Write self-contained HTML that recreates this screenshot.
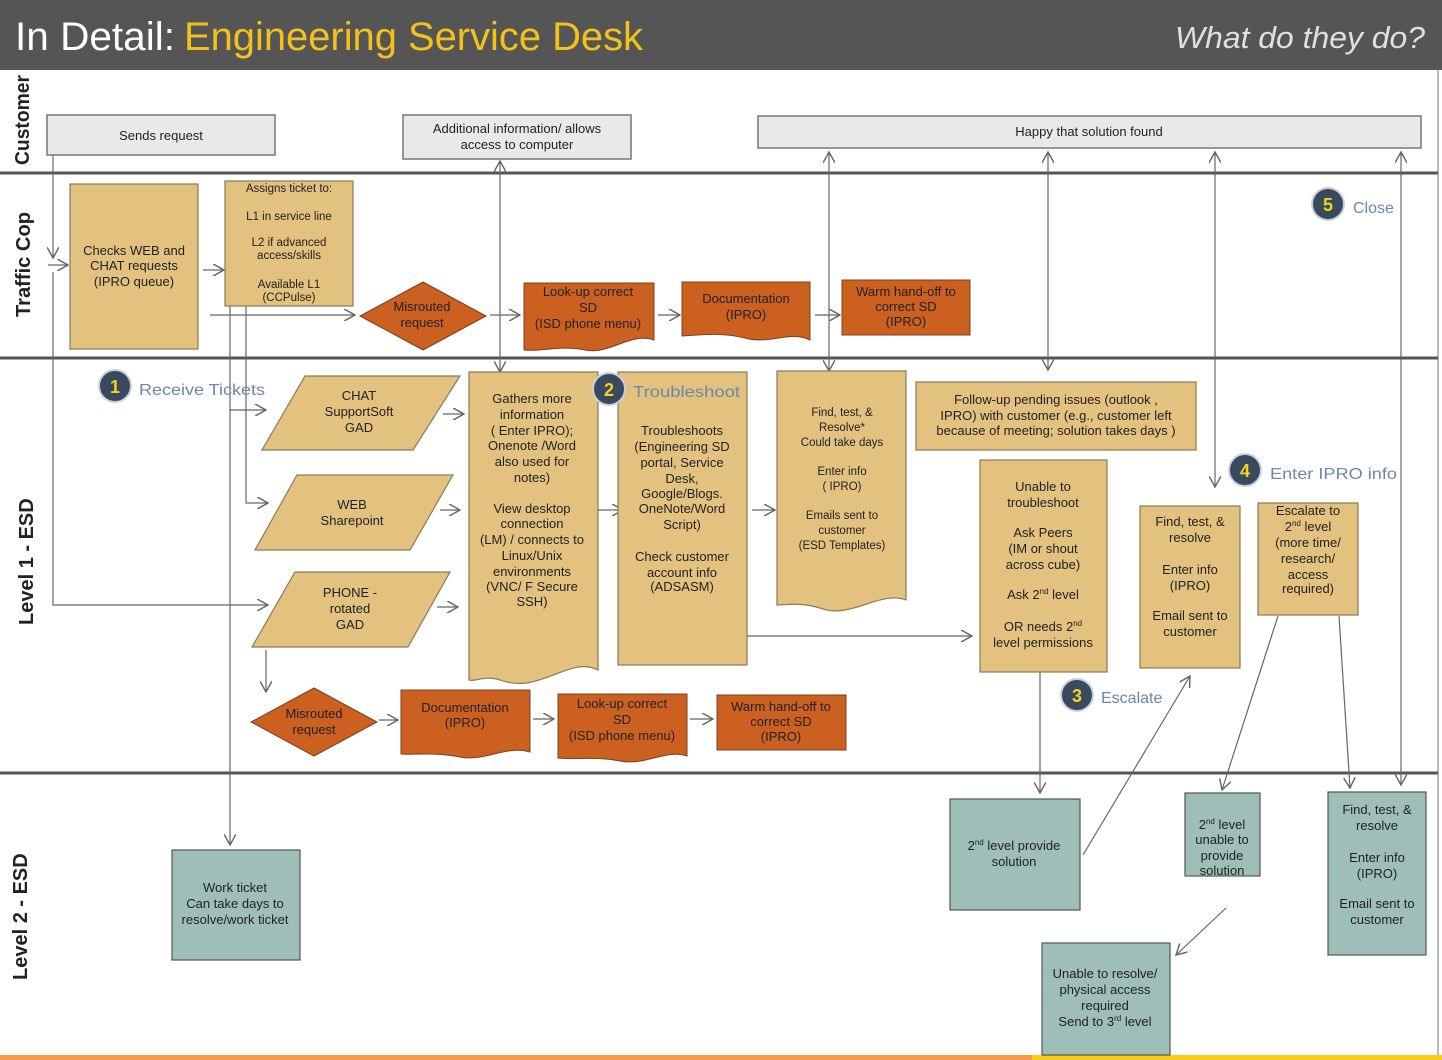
<!DOCTYPE html>
<html><head><meta charset="utf-8"><style>
html,body{margin:0;padding:0;background:#fff}
svg{display:block}
text{font-family:"Liberation Sans",sans-serif;fill:#222}
.b{font-size:13px}
.s{font-size:11.5px}
text.st{fill:#6a88a8;font-size:16px}
text.num{fill:#f5d21c;font-size:18px;font-weight:bold}
</style></head><body>
<svg width="1442" height="1060" viewBox="0 0 1442 1060" xmlns="http://www.w3.org/2000/svg">
<defs>
<marker id="a" viewBox="0 0 10 10" refX="9" refY="5" markerWidth="12" markerHeight="12" orient="auto-start-reverse" markerUnits="userSpaceOnUse">
<path d="M0,0 L9,5 L0,10" fill="none" stroke="#666" stroke-width="1.2"/></marker>
</defs>
<rect x="0" y="0" width="1442" height="70" fill="#555"/>
<text x="15" y="50" style="font-size:40px;fill:#fff" textLength="160" lengthAdjust="spacingAndGlyphs">In Detail:</text>
<text x="184" y="50" style="font-size:40px;fill:#f2c21b" textLength="459" lengthAdjust="spacingAndGlyphs">Engineering Service Desk</text>
<text x="1425" y="48" text-anchor="end" style="font-size:31px;font-style:italic;fill:#e0e0e0" textLength="250" lengthAdjust="spacingAndGlyphs">What do they do?</text>
<line x1="1438" y1="70" x2="1438" y2="1055" stroke="#bbb" stroke-width="2"/>
<g stroke="#555" stroke-width="3">
<line x1="0" y1="173" x2="1438" y2="173"/><line x1="0" y1="358" x2="1438" y2="358"/><line x1="0" y1="773" x2="1438" y2="773"/></g>
<g style="font-size:20px;font-weight:bold" fill="#111">
<text transform="translate(29,165) rotate(-90)" textLength="90" lengthAdjust="spacingAndGlyphs">Customer</text>
<text transform="translate(30,317) rotate(-90)" textLength="105" lengthAdjust="spacingAndGlyphs">Traffic Cop</text>
<text transform="translate(33,625) rotate(-90)">Level 1 - ESD</text>
<text transform="translate(27,980) rotate(-90)">Level 2 - ESD</text></g>
<rect x="0" y="1055" width="1032" height="5" fill="#f29a4e"/><rect x="1032" y="1055" width="410" height="5" fill="#f5cc1c"/>
<g fill="#e9e9e9" stroke="#777" stroke-width="1.5">
<rect x="47" y="115" width="228" height="40"/><rect x="403" y="115" width="228" height="44"/><rect x="758" y="116" width="663" height="32"/></g>
<text class="b" x="161" y="140" text-anchor="middle">Sends request</text>
<text class="b" x="517" y="133" text-anchor="middle">Additional information/ allows</text>
<text class="b" x="517" y="149" text-anchor="middle">access to computer</text>
<text class="b" x="1089" y="136" text-anchor="middle">Happy that solution found</text>
<g stroke="#666" stroke-width="1.2" fill="none">
<path d="M53,155 V258" marker-end="url(#a)"/><path d="M53,272 V605 H268" marker-end="url(#a)"/>
<path d="M48,265 H68" marker-end="url(#a)"/>
<path d="M203,270 H224" marker-end="url(#a)"/>
<path d="M210,315 H355" marker-end="url(#a)"/>
<path d="M230,306 V845" marker-end="url(#a)"/>
<path d="M246,306 V503 H268" marker-end="url(#a)"/>
<path d="M230,410 H266" marker-end="url(#a)"/>
<path d="M500,161 V372" marker-end="url(#a)" marker-start="url(#a)"/>
<path d="M829,152 V371" marker-end="url(#a)" marker-start="url(#a)"/>
<path d="M1048,152 V370" marker-end="url(#a)" marker-start="url(#a)"/>
<path d="M1215,152 V487" marker-end="url(#a)" marker-start="url(#a)"/>
<path d="M1401,152 V785" marker-end="url(#a)" marker-start="url(#a)"/>
<path d="M490,315 H520" marker-end="url(#a)"/>
<path d="M658,315 H680" marker-end="url(#a)"/>
<path d="M815,315 H840" marker-end="url(#a)"/>
<path d="M443,414 H464" marker-end="url(#a)"/>
<path d="M440,510 H460" marker-end="url(#a)"/>
<path d="M437,607 H458" marker-end="url(#a)"/>
<path d="M598,510 H623" marker-end="url(#a)"/>
<path d="M752,510 H775" marker-end="url(#a)"/>
<path d="M747,636 H972" marker-end="url(#a)"/>
<path d="M266,650 V692" marker-end="url(#a)"/>
<path d="M379,720 H398" marker-end="url(#a)"/>
<path d="M533,719 H554" marker-end="url(#a)"/>
<path d="M690,719 H713" marker-end="url(#a)"/>
<path d="M1040,672 V793" marker-end="url(#a)"/>
<path d="M1083,855 L1190,676" marker-end="url(#a)"/>
<path d="M1278,616 L1222,790" marker-end="url(#a)"/>
<path d="M1339,616 L1350,788" marker-end="url(#a)"/>
<path d="M1226,908 L1176,955" marker-end="url(#a)"/>
</g>
<g fill="#e2c27e" stroke="#8a7a5a" stroke-width="1.2">
<rect x="70" y="184" width="128" height="165"/>
<rect x="225" y="181" width="128" height="125"/>
<polygon points="305,376 460,376 413,450 262,450"/>
<polygon points="297,475 453,475 410,550 255,550"/>
<polygon points="295,572 450,572 408,647 252,647"/>
<path d="M469,372 H598 V670 C570,655 540,695 500,680 C485,675 475,682 469,680 Z"/>
<rect x="618" y="372" width="129" height="293"/>
<path d="M777,371 H906 V600 C880,590 850,620 820,608 C800,602 785,605 777,605 Z"/>
<rect x="916" y="382" width="280" height="68"/>
<rect x="980" y="460" width="127" height="212"/>
<rect x="1140" y="506" width="100" height="162"/>
<rect x="1258" y="503" width="100" height="112"/>
</g>
<g fill="#cc6020" stroke="#7a4020" stroke-width="1">
<polygon points="423,282 486,316 423,350 360,316"/>
<polygon points="314,688 377,722 314,756 251,722"/>
<path d="M524,283 H654 V340 C630,332 610,355 585,350 C560,345 540,352 524,350 Z"/>
<path d="M682,282 H810 V340 C790,330 770,345 745,338 C720,332 700,335 682,336 Z"/>
<rect x="842" y="280" width="128" height="55"/>
<path d="M401,690 H530 V752 C505,745 485,762 460,757 C435,752 415,755 401,754 Z"/>
<path d="M558,694 H687 V756 C665,749 645,766 620,761 C595,756 575,760 558,758 Z"/>
<rect x="717" y="695" width="129" height="55"/>
</g>
<g fill="#9dbfb8" stroke="#555" stroke-width="1.2">
<rect x="172" y="850" width="128" height="110"/>
<rect x="950" y="799" width="130" height="111"/>
<rect x="1185" y="793" width="75" height="83"/>
<rect x="1328" y="792" width="98" height="163"/>
<rect x="1042" y="943" width="128" height="112"/>
</g>
<g class="b" text-anchor="middle">
<text x="134" y="255">Checks WEB and</text><text x="134" y="270">CHAT requests</text><text x="134" y="286">(IPRO queue)</text>
</g>
<g class="s" text-anchor="middle">
<text x="289" y="192">Assigns ticket to:</text><text x="289" y="220">L1 in service line</text>
<text x="289" y="246">L2 if advanced</text><text x="289" y="259">access/skills</text>
<text x="289" y="288">Available L1</text><text x="289" y="301">(CCPulse)</text>
</g>
<g class="b" text-anchor="middle">
<text x="422" y="311">Misrouted</text><text x="422" y="327">request</text>
<text x="588" y="296">Look-up correct</text><text x="588" y="312">SD</text><text x="588" y="328">(ISD phone menu)</text>
<text x="746" y="303">Documentation</text><text x="746" y="319">(IPRO)</text>
<text x="906" y="296">Warm hand-off to</text><text x="906" y="311">correct SD</text><text x="906" y="326">(IPRO)</text>
<text x="359" y="400">CHAT</text><text x="359" y="416">SupportSoft</text><text x="359" y="432">GAD</text>
<text x="352" y="509">WEB</text><text x="352" y="525">Sharepoint</text>
<text x="350" y="597">PHONE -</text><text x="350" y="613">rotated</text><text x="350" y="629">GAD</text>
<text x="532" y="403">Gathers more</text><text x="532" y="419">information</text><text x="532" y="435">( Enter IPRO);</text>
<text x="532" y="450">Onenote /Word</text><text x="532" y="466">also used for</text><text x="532" y="482">notes)</text>
<text x="532" y="513">View desktop</text><text x="532" y="528">connection</text><text x="532" y="544">(LM) / connects to</text>
<text x="532" y="560">Linux/Unix</text><text x="532" y="576">environments</text><text x="532" y="591">(VNC/ F Secure</text><text x="532" y="606">SSH)</text>
<text x="682" y="435">Troubleshoots</text><text x="682" y="451">(Engineering SD</text><text x="682" y="467">portal, Service</text>
<text x="682" y="483">Desk,</text><text x="682" y="498">Google/Blogs.</text><text x="682" y="513">OneNote/Word</text><text x="682" y="529">Script)</text>
<text x="682" y="561">Check customer</text><text x="682" y="577">account info</text><text x="682" y="591">(ADSASM)</text>
</g>
<g class="s" text-anchor="middle">
<text x="842" y="416">Find, test, &amp;</text><text x="842" y="431">Resolve*</text><text x="842" y="446">Could take days</text>
<text x="842" y="475">Enter info</text><text x="842" y="490">( IPRO)</text>
<text x="842" y="519">Emails sent to</text><text x="842" y="534">customer</text><text x="842" y="549">(ESD Templates)</text>
</g>
<g class="b" text-anchor="middle">
<text x="1056" y="404">Follow-up  pending issues (outlook ,</text><text x="1056" y="420">IPRO) with customer (e.g., customer left</text><text x="1056" y="435">because of meeting; solution takes days )</text>
<text x="1043" y="491">Unable to</text><text x="1043" y="507">troubleshoot</text>
<text x="1043" y="537">Ask Peers</text><text x="1043" y="553">(IM or shout</text><text x="1043" y="569">across cube)</text>
<text x="1043" y="599">Ask 2<tspan dy="-5" style="font-size:8px">nd</tspan><tspan dy="5"> level</tspan></text>
<text x="1043" y="631">OR needs 2<tspan dy="-5" style="font-size:8px">nd</tspan></text><text x="1043" y="647">level permissions</text>
<text x="1190" y="526">Find, test, &amp;</text><text x="1190" y="542">resolve</text>
<text x="1190" y="574">Enter info</text><text x="1190" y="590">(IPRO)</text>
<text x="1190" y="620">Email sent to</text><text x="1190" y="636">customer</text>
<text x="1308" y="515">Escalate to</text><text x="1308" y="531">2<tspan dy="-5" style="font-size:8px">nd</tspan><tspan dy="5"> level</tspan></text>
<text x="1308" y="547">(more time/</text><text x="1308" y="563">research/</text><text x="1308" y="579">access</text><text x="1308" y="593">required)</text>
<text x="314" y="718">Misrouted</text><text x="314" y="734">request</text>
<text x="465" y="712">Documentation</text><text x="465" y="727">(IPRO)</text>
<text x="622" y="708">Look-up correct</text><text x="622" y="724">SD</text><text x="622" y="740">(ISD phone menu)</text>
<text x="781" y="711">Warm hand-off to</text><text x="781" y="726">correct SD</text><text x="781" y="741">(IPRO)</text>
<text x="235" y="892">Work ticket</text><text x="235" y="908">Can take days to</text><text x="235" y="924">resolve/work ticket</text>
<text x="1014" y="850">2<tspan dy="-5" style="font-size:8px">nd</tspan><tspan dy="5"> level provide</tspan></text><text x="1014" y="866">solution</text>
<text x="1222" y="829">2<tspan dy="-5" style="font-size:8px">nd</tspan><tspan dy="5"> level</tspan></text><text x="1222" y="844">unable to</text><text x="1222" y="860">provide</text><text x="1222" y="875">solution</text>
<text x="1377" y="814">Find, test, &amp;</text><text x="1377" y="830">resolve</text>
<text x="1377" y="862">Enter info</text><text x="1377" y="878">(IPRO)</text>
<text x="1377" y="908">Email sent to</text><text x="1377" y="924">customer</text>
<text x="1105" y="978">Unable to resolve/</text><text x="1105" y="994">physical access</text><text x="1105" y="1010">required</text>
<text x="1105" y="1026">Send to 3<tspan dy="-5" style="font-size:8px">rd</tspan><tspan dy="5"> level</tspan></text>
</g>
<g stroke="#c8d2dc" stroke-width="2" fill="#3a4a5e">
<circle cx="115" cy="386" r="16"/><circle cx="609" cy="389" r="16"/><circle cx="1077" cy="695" r="16"/><circle cx="1245" cy="470" r="16"/><circle cx="1328" cy="204" r="16"/></g>
<g text-anchor="middle">
<text class="num" x="115" y="393">1</text><text class="num" x="609" y="396">2</text><text class="num" x="1077" y="702">3</text><text class="num" x="1245" y="477">4</text><text class="num" x="1328" y="211">5</text></g>
<text class="st" x="139" y="395" textLength="126" lengthAdjust="spacingAndGlyphs">Receive Tickets</text>
<text class="st" x="633" y="397" textLength="107" lengthAdjust="spacingAndGlyphs">Troubleshoot</text>
<text class="st" x="1101" y="703">Escalate</text>
<text class="st" x="1270" y="479" textLength="127" lengthAdjust="spacingAndGlyphs">Enter IPRO info</text>
<text class="st" x="1353" y="213">Close</text>
</svg>
</body></html>
